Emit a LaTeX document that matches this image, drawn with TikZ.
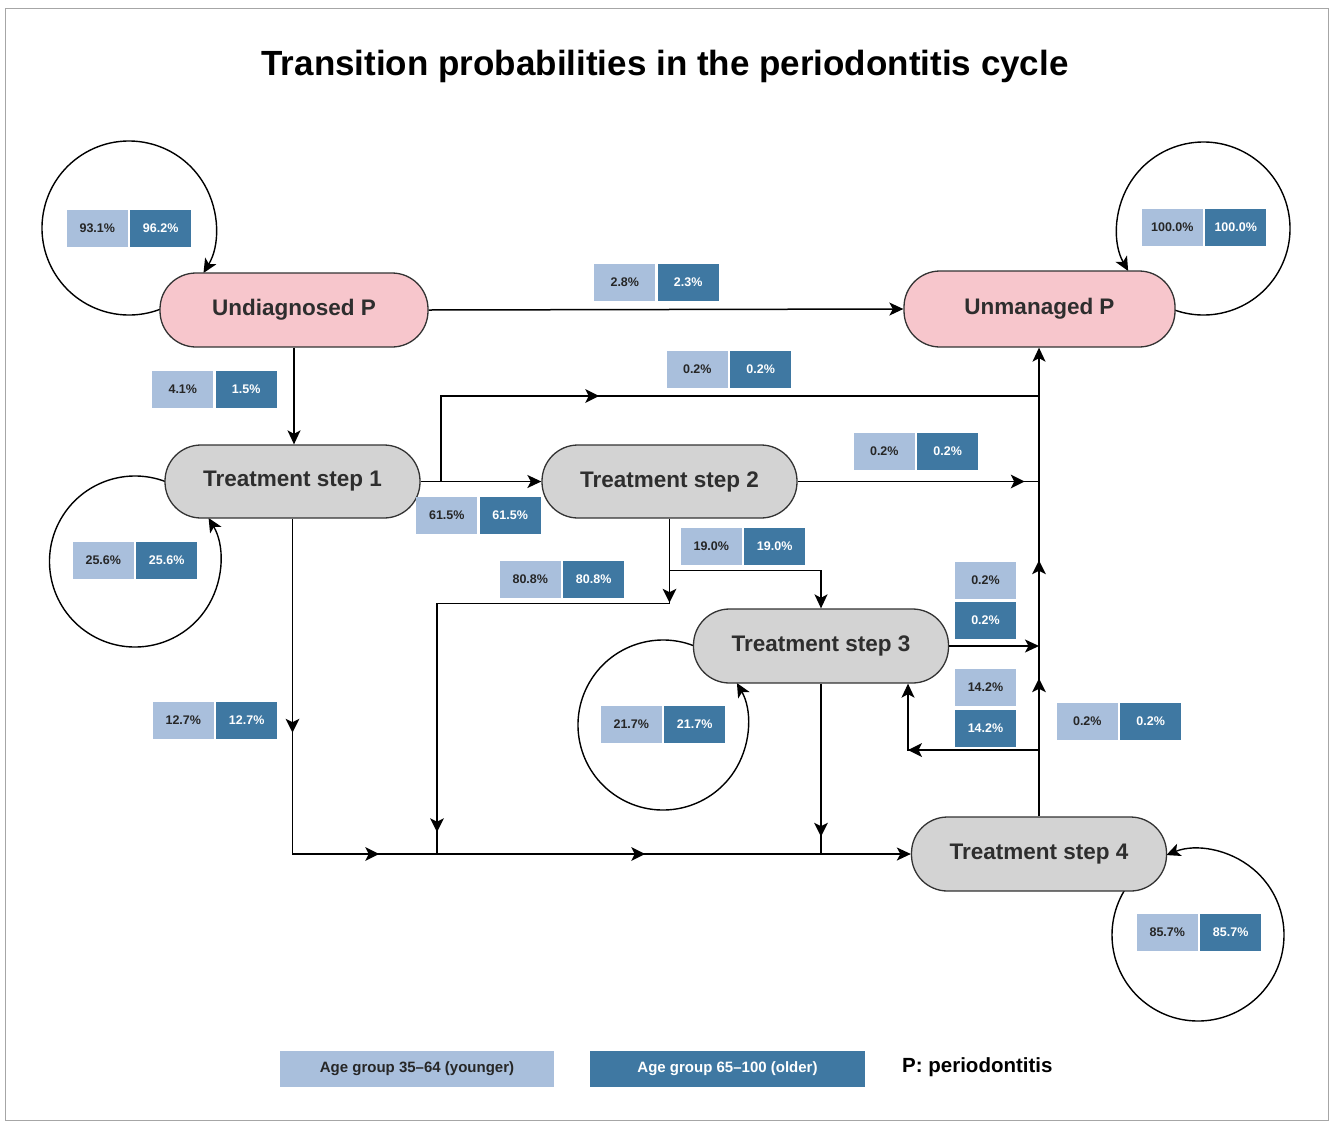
\documentclass[tikz,border=0pt]{standalone}
\usepackage{fontspec}
\setmainfont{Liberation Sans}
\usetikzlibrary{arrows.meta,decorations.markings,backgrounds}
\definecolor{lb}{HTML}{A9BFDC}
\definecolor{db}{HTML}{3F78A2}
\definecolor{pk}{HTML}{F7C6CC}
\definecolor{gy}{HTML}{D3D3D3}
\tikzset{
  tip/.style={-{Stealth[length=14pt,width=13pt,inset=3.5pt]}},
  midtip/.style={postaction={decorate,decoration={markings,mark=at position #1 with {\fill[black] (-12pt,-7pt) -- (2pt,0pt) -- (-12pt,7pt) -- (-8.5pt,0pt) -- cycle;}}}},
  conn/.style={line width=1.5pt, draw=black},
  state/.style={rectangle, rounded corners=36pt, draw=black!80, line width=1.3pt, minimum width=255pt, minimum height=74pt, inner sep=0pt, text=black!82, font=\bfseries\fontsize{22.5}{26}\selectfont},
  pinkst/.style={state, fill=pk},
  grayst/.style={state, fill=gy},
  lt/.style={fill=lb, minimum width=61pt, minimum height=37pt, inner sep=0pt, font=\bfseries\fontsize{12.5}{14}\selectfont, text=black!85},
  dk/.style={lt, fill=db, text=white},
  loopline/.style={line width=1.4pt, tip},
}
\newcommand\pctpair[5]{%
  \node[lt, anchor=east] (#1y) at (#2-1,#3) {#4};
  \node[dk, anchor=west] (#1o) at (#2+1,#3) {#5};}
\begin{document}
\begin{tikzpicture}[x=1pt,y=1pt]
\useasboundingbox (0,0) rectangle (1335,-1122);
\draw[gray!70, line width=0.8pt] (5,-8) rectangle (1328,-1120);

\node[font=\bfseries\fontsize{35}{40}\selectfont] (title) at (665,-66) {Transition probabilities in the periodontitis cycle};

% states
\node[pinkst, minimum width=268pt] (und) at (294,-310) {Undiagnosed P};
\node[pinkst, minimum width=271pt, minimum height=76pt] (unm) at (1039.5,-309) {Unmanaged P};
\node[grayst, minimum height=73pt] (s1) at (292.5,-481.5) {Treatment step 1};
\node[grayst, minimum height=73pt] (s2) at (669.5,-481.5) {Treatment step 2};
\node[grayst] (s3) at (821,-646) {Treatment step 3};
\node[grayst] (s4) at (1039,-854) {Treatment step 4};

% loops
\coordinate (cU) at (129,-228);
\coordinate (cM) at (1203.5,-228.5);
\coordinate (c1) at (135,-561.5);
\coordinate (c3) at (663,-725);
\coordinate (c4) at (1198,-935);
\begin{pgfonlayer}{background}
\draw[loopline] (cU) ++(-60:87pt) arc[start angle=-60, end angle=-391.1, radius=87pt];
\draw[loopline] (cM) ++(-120:86.5pt) arc[start angle=-120, end angle=209.4, radius=86.5pt];
\draw[loopline] (c1) ++(60:85.5pt) arc[start angle=60, end angle=390.6, radius=85.5pt];
\draw[loopline] (c3) ++(60:85pt) arc[start angle=60, end angle=389.6, radius=85pt];
\draw[loopline] (c4) ++(140:86pt) arc[start angle=140, end angle=471.6, radius=86pt];
\end{pgfonlayer}

% junction coordinates
\coordinate (jA) at (437,-854);
\coordinate (jT) at (441,-396);

% connectors
\draw[conn, tip] (und.east) -- (unm.west);
\draw[conn, tip] (und.south) -- (und.south |- s1.north);
\draw[conn, tip] (s1.east) -- (s2.west);
\draw[conn, midtip=262pt] (s1.east) -- (jT |- s1.east) -- (jT) -- (s4.north |- jT);
\draw[conn, tip, midtip=136pt, midtip=254pt] (s4.north) -- (s4.north |- unm.south);
\draw[conn, midtip=225pt] (s2.east) -- (s4.north |- s2.east);
\draw[conn, tip] (s3.east) -- (s4.north |- s3.east);
\draw[conn, tip, midtip=129pt] (s4.north |- 0,-750) -- (908,-750) -- ([xshift=87pt]s3.south);
\draw[conn, tip] (s2.south) -- ++(0,-52) -| (s3.north);
\draw[conn, midtip=82pt, midtip=544pt] (s2.south) -- ++(0,-85) -| (jA);
\draw[conn, tip, midtip=212pt, midtip=420pt, midtip=686pt] (s1.south) |- (s4.west);
\draw[conn, midtip=151pt] (s3.south) -- (s3.south |- s4.west);

% labels
\pctpair{lU}{129}{-228}{93.1\%}{96.2\%}
\pctpair{eUM}{656.5}{-282}{2.8\%}{2.3\%}
\pctpair{e1M}{729}{-369.5}{0.2\%}{0.2\%}
\pctpair{eU1}{214.5}{-389.5}{4.1\%}{1.5\%}
\pctpair{e12}{478.5}{-515.5}{61.5\%}{61.5\%}
\pctpair{e2M}{916}{-451.5}{0.2\%}{0.2\%}
\pctpair{e23}{743}{-546}{19.0\%}{19.0\%}
\pctpair{e24}{562}{-579}{80.8\%}{80.8\%}
\pctpair{l1}{135}{-560.5}{25.6\%}{25.6\%}
\pctpair{l3}{663}{-724.5}{21.7\%}{21.7\%}
\pctpair{e14}{215}{-720.5}{12.7\%}{12.7\%}
\pctpair{e4M}{1119}{-721}{0.2\%}{0.2\%}
\pctpair{l4}{1199}{-932}{85.7\%}{85.7\%}
\pctpair{lM}{1204}{-227}{100.0\%}{100.0\%}
\node[lt] (e3My) at (985.5,-580) {0.2\%};
\node[dk] (e3Mo) at (985.5,-620.5) {0.2\%};
\node[lt] (e43y) at (985.5,-687.5) {14.2\%};
\node[dk] (e43o) at (985.5,-728.5) {14.2\%};

% legend
\node[fill=lb, text=black!85, minimum width=274pt, minimum height=36pt, inner sep=0pt, font=\bfseries\fontsize{15}{17}\selectfont] (leg1) at (417,-1069) {Age group 35–64 (younger)};
\node[fill=db, text=white, minimum width=275pt, minimum height=36pt, inner sep=0pt, font=\bfseries\fontsize{15}{17}\selectfont] (leg2) at (727.5,-1069) {Age group 65–100 (older)};
\node[anchor=west, inner sep=0pt, font=\bfseries\fontsize{20.5}{24}\selectfont] (pnote) at (902,-1067) {P: periodontitis};
\end{tikzpicture}
\end{document}
